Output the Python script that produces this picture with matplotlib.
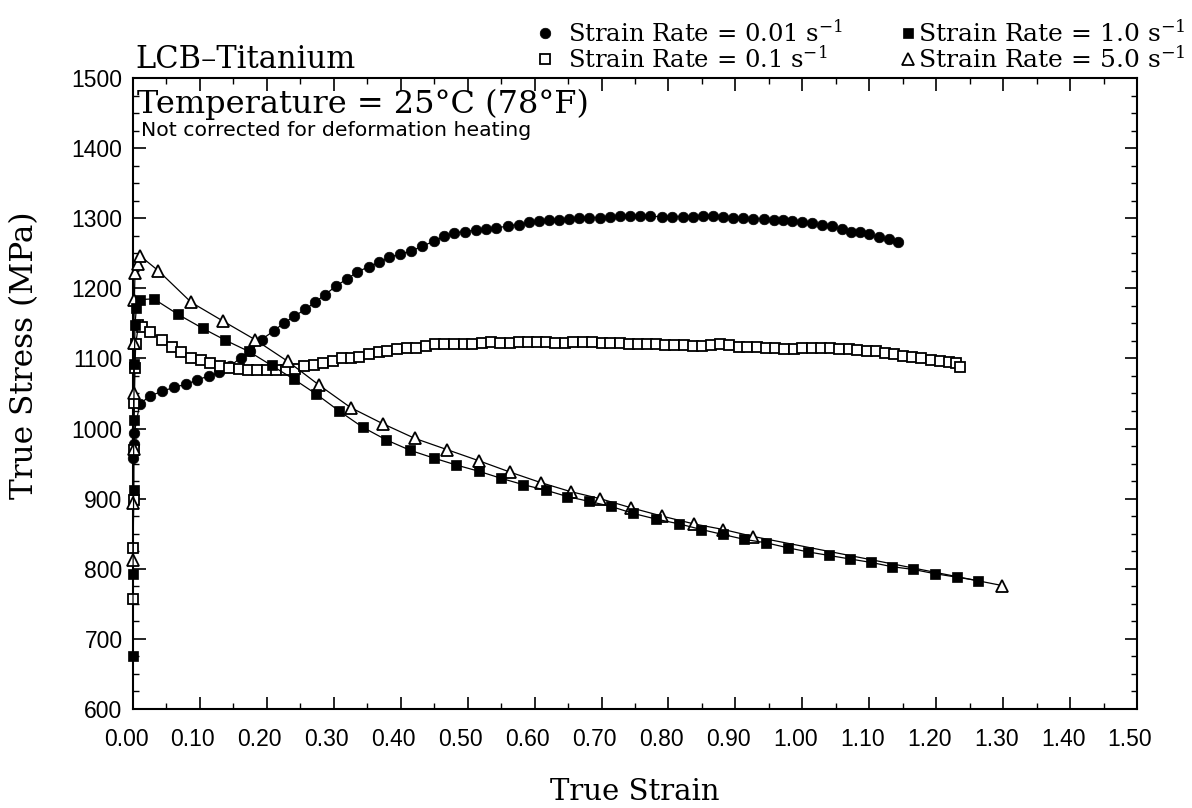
import numpy as np
import matplotlib
matplotlib.use("Agg")
import matplotlib.pyplot as plt
from matplotlib.lines import Line2D
from matplotlib.ticker import MultipleLocator
from matplotlib.transforms import ScaledTranslation

plt.rcParams['font.family'] = ['DejaVu Serif']
plt.rcParams['mathtext.fontset'] = 'dejavuserif'

# ---------------- flow curves, LCB titanium at 25 C ----------------
# strain rate 0.01 /s
strain_001 = [0.000, 0.001, 0.002, 0.010, 0.026, 0.044, 0.061, 0.079, 0.095, 0.113,
              0.129, 0.145, 0.161, 0.175, 0.192, 0.210, 0.226, 0.241, 0.257, 0.272,
              0.287, 0.303, 0.319, 0.335, 0.352, 0.368, 0.383, 0.399, 0.415, 0.432,
              0.449, 0.465, 0.480, 0.496, 0.512, 0.527, 0.543, 0.560, 0.576, 0.591,
              0.606, 0.621, 0.637, 0.652, 0.667, 0.682, 0.697, 0.712, 0.728, 0.743,
              0.758, 0.772, 0.790, 0.806, 0.822, 0.837, 0.852, 0.867, 0.882, 0.897,
              0.912, 0.927, 0.942, 0.957, 0.971, 0.985, 1.000, 1.015, 1.030, 1.044,
              1.059, 1.072, 1.086, 1.100, 1.115, 1.130, 1.143]
stress_001 = [958, 978, 994, 1035, 1047, 1053, 1059, 1063, 1069, 1075,
              1080, 1089, 1101, 1110, 1127, 1139, 1151, 1160, 1170, 1180,
              1191, 1203, 1213, 1223, 1231, 1237, 1244, 1249, 1253, 1260,
              1267, 1274, 1279, 1281, 1283, 1284, 1286, 1289, 1291, 1294,
              1296, 1297, 1298, 1299, 1300, 1300, 1301, 1302, 1303, 1303,
              1303, 1303, 1302, 1302, 1302, 1302, 1303, 1303, 1302, 1301,
              1300, 1299, 1299, 1297, 1297, 1296, 1295, 1293, 1290, 1289,
              1284, 1281, 1280, 1277, 1273, 1270, 1266]

# strain rate 0.1 /s
strain_01 = [0.000, 0.000, 0.001, 0.001, 0.002, 0.003, 0.004, 0.008, 0.014,
             0.026, 0.043, 0.058, 0.072, 0.087, 0.101, 0.115, 0.130, 0.144, 0.158,
             0.172, 0.186, 0.200, 0.214, 0.228, 0.242, 0.256, 0.270, 0.284, 0.299,
             0.312, 0.325, 0.338, 0.352, 0.367, 0.380, 0.394, 0.409, 0.423, 0.438,
             0.451, 0.465, 0.479, 0.494, 0.507, 0.521, 0.535,
             0.549, 0.563, 0.576, 0.590, 0.604, 0.617, 0.631, 0.645, 0.658, 0.672,
             0.686, 0.700, 0.713, 0.727, 0.741, 0.754, 0.768, 0.782, 0.795, 0.809,
             0.823, 0.836, 0.850, 0.864, 0.877, 0.891, 0.905, 0.918, 0.932, 0.946,
             0.959, 0.973, 0.987, 1.000, 1.014, 1.028, 1.041, 1.055, 1.069, 1.082,
             1.096, 1.110, 1.123, 1.137, 1.151, 1.164, 1.178, 1.192, 1.205, 1.219,
             1.229, 1.236]
stress_01 = [757, 829, 898, 969, 1037, 1087, 1120, 1147, 1145,
             1138, 1126, 1117, 1109, 1101, 1098, 1094, 1089, 1087, 1085,
             1084, 1083, 1083, 1083, 1084, 1085, 1089, 1090, 1094, 1096,
             1100, 1101, 1102, 1107, 1109, 1110, 1113, 1115, 1115, 1118,
             1120, 1120, 1121, 1121, 1121, 1122, 1123,
             1122, 1122, 1123, 1123, 1123, 1123, 1122, 1122, 1123, 1123,
             1123, 1122, 1122, 1122, 1121, 1121, 1120, 1120, 1119, 1119,
             1119, 1118, 1118, 1119, 1120, 1119, 1117, 1116, 1116, 1115,
             1115, 1114, 1114, 1115, 1115, 1115, 1115, 1114, 1113, 1112,
             1111, 1110, 1108, 1106, 1104, 1102, 1100, 1098, 1097, 1095,
             1093, 1088]

# strain rate 1.0 /s
strain_10 = [0.000, 0.000, 0.001, 0.001, 0.002, 0.003, 0.005,
             0.011, 0.031, 0.067, 0.104, 0.138, 0.173, 0.207, 0.241, 0.274,
             0.308, 0.343, 0.378, 0.414, 0.449, 0.483, 0.517, 0.550, 0.583, 0.617,
             0.649, 0.682, 0.714, 0.747, 0.781, 0.816, 0.849, 0.881, 0.913, 0.946,
             0.978, 1.009, 1.040, 1.071, 1.103, 1.134, 1.166, 1.198, 1.231, 1.263]
stress_10 = [675, 792, 912, 1012, 1092, 1148, 1172,
             1184, 1185, 1163, 1143, 1126, 1110, 1090, 1070, 1049,
             1025, 1002, 984, 969, 958, 948, 939, 929, 920, 912,
             903, 896, 889, 879, 871, 864, 856, 849, 842, 837,
             830, 824, 819, 814, 809, 803, 799, 793, 788, 783]

# strain rate 5.0 /s
strain_50 = [0.000, 0.000, 0.001, 0.001, 0.001, 0.002, 0.003, 0.007, 0.011,
             0.038, 0.087, 0.135, 0.182, 0.231, 0.278, 0.325, 0.373, 0.421, 0.469,
             0.517, 0.563, 0.609, 0.654, 0.698, 0.744, 0.791, 0.838, 0.882, 0.927,
             1.299]
stress_50 = [813, 894, 971, 1050, 1122, 1183, 1222, 1234, 1246,
             1225, 1180, 1153, 1127, 1096, 1062, 1030, 1007, 986, 970,
             954, 938, 923, 910, 900, 887, 875, 864, 856, 846,
             776]

labels = [r"Strain Rate = 0.01 $\mathregular{s^{-1}}$",
          r"Strain Rate = 0.1 $\mathregular{s^{-1}}$",
          r"Strain Rate = 1.0 $\mathregular{s^{-1}}$",
          r"Strain Rate = 5.0 $\mathregular{s^{-1}}$"]

x_ticks = [0.0, 0.1, 0.2, 0.3, 0.4, 0.5, 0.6, 0.7, 0.8, 0.9, 1.0, 1.1, 1.2, 1.3, 1.4, 1.5]
x_tick_labels = [f"{v:.2f}" for v in x_ticks]
y_ticks = [600, 700, 800, 900, 1000, 1100, 1200, 1300, 1400, 1500]

# ---------------- figure ----------------
W, H = 1192, 808
fig = plt.figure(figsize=(W / 100, H / 100), dpi=100)
ax = fig.add_axes([133 / W, 1 - 709 / H, 1004 / W, 631 / H])

styles = {
    '001': dict(marker='o', ms=7.6, mfc='black', mec='black', mew=0.5),
    '01': dict(marker='s', ms=6.6, mfc='white', mec='black', mew=1.3),
    '10': dict(marker='s', ms=7.4, mfc='black', mec='black', mew=0.5),
    '50': dict(marker='^', ms=8.0, mfc='white', mec='black', mew=1.3),
}

ax.plot(strain_001, stress_001, color='black', lw=0.9, clip_on=False, zorder=3, **styles['001'])
ax.plot(strain_01, stress_01, color='black', lw=0.9, clip_on=False, zorder=3, **styles['01'])
ax.plot(strain_50, stress_50, color='black', lw=0.9, clip_on=False, zorder=4, **styles['50'])
ax.plot(strain_10, stress_10, color='black', lw=0.9, clip_on=False, zorder=5, **styles['10'])

ax.set_xlim(0, 1.5)
ax.set_ylim(600, 1500)
ax.set_xticks(x_ticks)
ax.set_xticklabels(x_tick_labels)
ax.set_yticks(y_ticks)
ax.xaxis.set_minor_locator(MultipleLocator(0.05))
ax.yaxis.set_minor_locator(MultipleLocator(25))

for s in ax.spines.values():
    s.set_linewidth(1.5)

ax.tick_params(which='major', direction='in', length=9, width=1.2,
               top=True, right=True, labelsize=16.5, labelfontfamily='Liberation Sans')
ax.tick_params(which='minor', direction='in', length=4.3, width=1.0, top=True, right=True)
ax.tick_params(axis='x', which='major', pad=14)
ax.tick_params(axis='y', which='major', pad=7.5)

shift = ScaledTranslation(-7 / 100, 0, fig.dpi_scale_trans)
for lab in ax.get_xticklabels():
    lab.set_transform(lab.get_transform() + shift)

ax.set_xlabel("True Strain", fontsize=21)
ax.xaxis.set_label_coords(0.5, -0.11)
ax.set_ylabel("True Stress (MPa)", fontsize=22.5)
ax.yaxis.set_label_coords(-0.093, 0.561)

fig.text(135 / W, 1 - 68 / H, "LCB\u2013Titanium", fontsize=22, va='baseline')
fig.text(137 / W, 1 - 113 / H, "Temperature = 25\u00b0C (78\u00b0F)", fontsize=23, va='baseline')
fig.text(141 / W, 1 - 136 / H, "Not corrected for deformation heating",
         fontsize=14.7, family='DejaVu Sans', va='baseline')

# legend in two columns above the plot frame
def proxy(key):
    return Line2D([], [], ls='none', color='black', **styles[key])

leg1 = fig.legend([proxy('001'), proxy('01')], labels[:2], loc='upper left',
                  bbox_to_anchor=(535 / W, 1 - 20 / H), frameon=False, fontsize=17.5,
                  handlelength=0.8, handletextpad=0.56, labelspacing=0.0,
                  borderpad=0, borderaxespad=0)
leg2 = fig.legend([proxy('10'), proxy('50')], labels[2:], loc='upper left',
                  bbox_to_anchor=(900 / W, 1 - 20 / H), frameon=False, fontsize=18,
                  handlelength=0.6, handletextpad=0.14, labelspacing=0.0,
                  borderpad=0, borderaxespad=0)

fig.savefig("out.png", dpi=100)
